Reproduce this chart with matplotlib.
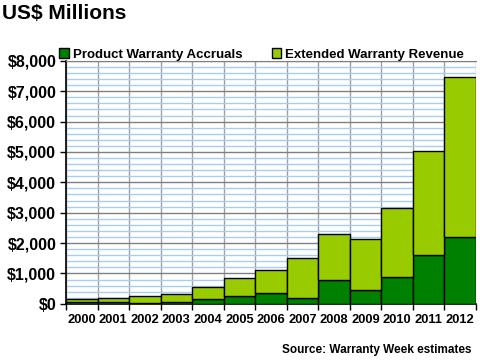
import matplotlib
matplotlib.use("Agg")
import matplotlib.pyplot as plt
import numpy as np
from matplotlib.ticker import MultipleLocator, FuncFormatter

years = ["2000", "2001", "2002", "2003", "2004", "2005", "2006",
         "2007", "2008", "2009", "2010", "2011", "2012"]
accruals = [50, 70, 35, 75, 165, 265, 365, 200, 790, 460, 900, 1620, 2190]
ext_revenue = [115, 115, 215, 255, 375, 570, 760, 1320, 1520, 1660, 2270, 3400, 5290]

plt.rcParams['font.family'] = ['Liberation Sans', 'DejaVu Sans']

dark_green = "#008000"
light_green = "#99CC00"

fig = plt.figure(figsize=(4.8, 3.6), dpi=100)
ax = fig.add_axes([0.1375, 0.156, 0.854, 0.675])

x = np.arange(len(years))
ax.bar(x, accruals, width=1.0, color=dark_green, edgecolor="black", linewidth=1.0,
       label="Product Warranty Accruals", zorder=3)
ax.bar(x, ext_revenue, width=1.0, bottom=accruals, color=light_green, edgecolor="black",
       linewidth=1.0, label="Extended Warranty Revenue", zorder=3)

ax.set_xlim(-0.5, len(years) - 0.5)
ax.set_ylim(0, 8000)

ax.yaxis.set_major_locator(MultipleLocator(1000))
ax.yaxis.set_minor_locator(MultipleLocator(200))
ax.yaxis.set_major_formatter(FuncFormatter(lambda v, p: "${:,.0f}".format(v)))

ax.set_xticks(np.arange(len(years) + 1) - 0.5)
ax.set_xticklabels([])
ax.set_xticks(x, minor=True)
ax.set_xticklabels(years, minor=True, fontsize=9.3, fontweight="bold")
ax.tick_params(axis="x", which="minor", length=0, pad=7)
ax.tick_params(axis="x", which="major", length=4, width=1, color="black", direction="out")
ax.tick_params(axis="y", which="major", length=4, width=1, direction="out", labelsize=11.5, pad=3)
ax.tick_params(axis="y", which="minor", length=0)
for lab in ax.get_yticklabels():
    lab.set_fontweight("bold")

ax.grid(axis="y", which="minor", color="#A8CDF5", linewidth=1.0, zorder=0)
ax.grid(axis="y", which="major", color="#808080", linewidth=1.0, zorder=1)
ax.grid(axis="x", which="major", color="#A0A0A0", linewidth=1.0, zorder=1)

ax.spines["top"].set_color("#808080")
ax.spines["right"].set_visible(False)
ax.spines["left"].set_color("black")
ax.spines["bottom"].set_color("black")
ax.spines["left"].set_linewidth(1.2)
ax.spines["bottom"].set_linewidth(1.2)

leg = ax.legend(loc="lower left", bbox_to_anchor=(-0.02, 0.995), ncol=2, frameon=False,
                handlelength=0.75, handleheight=0.75, handletextpad=0.3, columnspacing=2.2,
                borderaxespad=0.0, borderpad=0.1,
                prop={"weight": "bold", "size": 9.5})

fig.text(0.004, 0.962, "US$ Millions", fontsize=15, fontweight="bold", ha="left", va="center")
fig.text(0.983, 0.028, "Source: Warranty Week estimates", fontsize=8.5, fontweight="bold",
         ha="right", va="center", family=["Liberation Sans Narrow", "Liberation Sans", "DejaVu Sans"])

fig.savefig("out.png", dpi=100)
